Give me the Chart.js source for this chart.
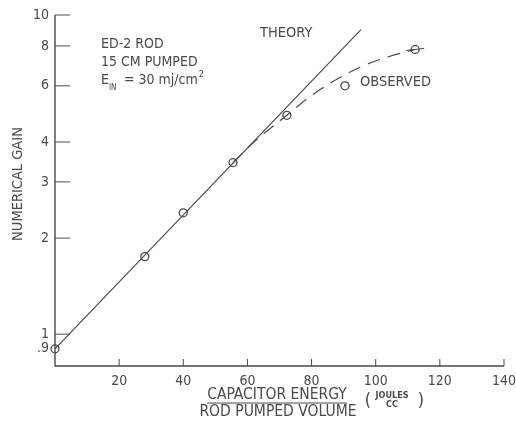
<!DOCTYPE html>
<html>
<head>
<meta charset="utf-8">
<script src="https://cdn.jsdelivr.net/npm/chart.js@4"></script>
<style>
  html, body { margin: 0; padding: 0; background: #fff; }
  #wrap { width: 516px; height: 424px; }
</style>
</head>
<body>
<div id="wrap"><canvas id="gainChart" width="516" height="424"></canvas></div>
<script>
const measuredEnergy = [0, 28, 40, 55.5, 72.3, 90.4, 112.3];
const measuredGain = [0.9, 1.75, 2.4, 3.45, 4.85, 6.0, 7.8];

// Theorie-Gerade
const theoryEnergy = [0, 95.4];
const theoryGain = [0.9, 9.0];

// Gestrichelte Kurve "observed"
const observedEnergy = [55.5, 63, 72.3, 80, 88, 96, 104, 112.3];
const observedGain = [3.45, 4.08, 4.85, 5.6, 6.3, 6.92, 7.4, 7.8];

// Achsenbeschriftungen
const xTicks = [20, 40, 60, 80, 100, 120, 140];
const yTicks = [0.9, 1, 2, 3, 4, 6, 8, 10];

const ink = '#4a4a4a';
const font = '"DejaVu Sans Condensed", "Liberation Sans Narrow", sans-serif';

function toPoints(xs, ys) {
    return xs.map((x, i) => ({ x: x, y: ys[i] }));
}

// Achsenlinien, nach innen zeigende Ticks und Beschriftungen
const decorPlugin = {
    id: 'decor',
    afterDraw(chart) {
        const ctx = chart.ctx;
        const xs = chart.scales.x;
        const ys = chart.scales.y;
        const area = chart.chartArea;
        ctx.save();
        ctx.strokeStyle = ink;
        ctx.lineWidth = 1.4;

        // Achsen
        ctx.beginPath();
        ctx.moveTo(area.left, ys.getPixelForValue(10));
        ctx.lineTo(area.left, area.bottom);
        ctx.lineTo(xs.getPixelForValue(140), area.bottom);
        ctx.stroke();

        // y-Ticks
        ctx.lineWidth = 1;
        yTicks.forEach((v) => {
            if (v === 0.9) return;
            const py = ys.getPixelForValue(v);
            ctx.beginPath();
            ctx.moveTo(area.left, py);
            ctx.lineTo(area.left + 15, py);
            ctx.stroke();
        });
        // x-Ticks
        xTicks.forEach((v) => {
            const px = xs.getPixelForValue(v);
            ctx.beginPath();
            ctx.moveTo(px, area.bottom);
            ctx.lineTo(px, area.bottom - 7);
            ctx.stroke();
        });

        ctx.fillStyle = ink;

        // y-Achsentitel
        ctx.save();
        ctx.font = '14.5px ' + font;
        ctx.translate(18, 184);
        ctx.rotate(-Math.PI / 2);
        ctx.textAlign = 'center';
        ctx.textBaseline = 'middle';
        ctx.fillText('NUMERICAL GAIN', 0, 0);
        ctx.restore();

        // x-Achsentitel als Bruch
        ctx.textAlign = 'center';
        ctx.textBaseline = 'middle';
        ctx.font = '15.5px ' + font;
        ctx.fillText('CAPACITOR ENERGY', 277, 395);
        ctx.fillText('ROD PUMPED VOLUME', 278, 412);
        ctx.beginPath();
        ctx.moveTo(207, 403);
        ctx.lineTo(347, 403);
        ctx.stroke();
        ctx.font = '18px ' + font;
        ctx.fillText('(', 368, 401);
        ctx.fillText(')', 421, 401);
        ctx.font = 'bold 9px ' + font;
        ctx.fillText('JOULES', 392, 396);
        ctx.fillText('CC', 392, 405);

        // Annotationen
        ctx.font = '14px ' + font;
        ctx.textAlign = 'left';
        ctx.fillText('ED-2 ROD', 101, 44);
        ctx.fillText('15 CM PUMPED', 101, 62);
        ctx.fillText('E', 101, 80);
        ctx.font = '8px ' + font;
        ctx.fillText('IN', 109, 88);
        ctx.font = '14px ' + font;
        ctx.fillText('= 30 mj/cm', 124, 80);
        const w = ctx.measureText('= 30 mj/cm').width;
        ctx.font = '9px ' + font;
        ctx.fillText('2', 124 + w + 1, 75);
        ctx.font = '14.5px ' + font;
        ctx.fillText('THEORY', 260, 33);
        ctx.fillText('OBSERVED', 360, 82);

        // kleiner Querstrich am letzten Messpunkt
        const lx = xs.getPixelForValue(measuredEnergy[6]);
        const ly = ys.getPixelForValue(measuredGain[6]);
        ctx.beginPath();
        ctx.moveTo(lx - 9, ly + 1);
        ctx.lineTo(lx + 9, ly - 1);
        ctx.stroke();
        ctx.restore();
    }
};

new Chart(document.getElementById('gainChart'), {
    type: 'scatter',
    data: {
        datasets: [
            {
                label: 'Theory',
                data: toPoints(theoryEnergy, theoryGain),
                showLine: true,
                borderColor: ink,
                borderWidth: 1.2,
                pointRadius: 0
            },
            {
                label: 'Observed',
                data: toPoints(observedEnergy, observedGain),
                showLine: true,
                borderColor: ink,
                borderWidth: 1.2,
                borderDash: [13, 8],
                tension: 0.4,
                pointRadius: 0
            },
            {
                label: 'Messpunkte',
                data: toPoints(measuredEnergy, measuredGain),
                showLine: false,
                pointRadius: 4,
                pointBorderWidth: 1.3,
                pointBorderColor: ink,
                pointBackgroundColor: 'rgba(255,255,255,0)'
            }
        ]
    },
    options: {
        responsive: false,
        animation: false,
        clip: false,
        layout: { padding: { top: 15, right: 12, left: 0, bottom: 0 } },
        plugins: {
            legend: { display: false },
            tooltip: { enabled: false }
        },
        scales: {
            x: {
                type: 'linear',
                min: 0,
                max: 140,
                border: { display: false },
                grid: { display: false, drawTicks: false },
                afterBuildTicks: (axis) => { axis.ticks = xTicks.map((v) => ({ value: v })); },
                afterFit: (axis) => {
                    axis.height = 58;
                    axis.paddingLeft = 0;
                    axis.paddingRight = 0;
                },
                ticks: {
                    color: ink,
                    padding: 7,
                    maxRotation: 0,
                    font: { family: font, size: 14 }
                }
            },
            y: {
                type: 'logarithmic',
                min: 0.795,
                max: 10,
                border: { display: false },
                grid: { display: false, drawTicks: false },
                afterBuildTicks: (axis) => { axis.ticks = yTicks.map((v) => ({ value: v })); },
                afterFit: (axis) => {
                    axis.width = 55;
                    axis.paddingTop = 0;
                    axis.paddingBottom = 0;
                },
                ticks: {
                    color: ink,
                    padding: 6,
                    font: { family: font, size: 14 },
                    callback: (v) => (v === 0.9 ? '.9' : String(v))
                }
            }
        }
    },
    plugins: [decorPlugin]
});
</script>
</body>
</html>
